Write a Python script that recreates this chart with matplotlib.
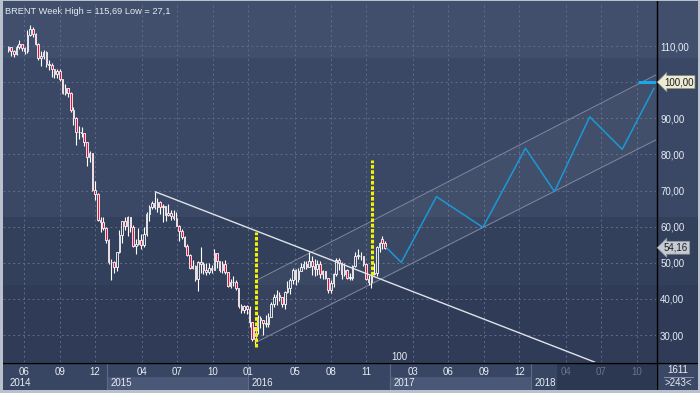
import numpy as np
import pandas as pd
import matplotlib
matplotlib.use('Agg')
import matplotlib.pyplot as plt
import matplotlib.dates as mdates
import matplotlib.transforms as mtransforms
from matplotlib.patches import Rectangle

plt.rcParams['font.family'] = ['Liberation Sans', 'DejaVu Sans']

# weekly candles, BRENT (week starting Monday)
weeks = pd.date_range('2014-04-21', periods=140, freq='7D')
opens = [108.9, 109.6, 108.6, 107.9, 109.8, 110.5, 109.4, 108.6, 113.0, 114.8,
         113.3, 110.6, 106.7, 107.2, 108.4, 105.0, 104.7, 103.5, 102.3, 103.2,
         100.8, 97.1, 98.4, 97.0, 92.3, 90.2, 86.2, 86.1, 85.9, 83.4,
         79.4, 80.4, 70.2, 69.1, 61.9, 61.4, 59.5,
         56.4, 50.1, 50.2, 48.8, 52.9, 57.8, 61.5, 60.2, 62.6, 60.0,
         54.7, 55.3, 56.4, 54.9, 57.9, 63.5, 65.3, 66.5, 65.4, 66.8,
         65.4, 65.6, 63.3, 63.9, 63.0, 62.3, 60.3, 58.7, 57.1, 54.6,
         52.2, 48.6, 49.2, 45.5, 50.1, 49.6, 48.1, 47.5, 48.6, 48.1,
         52.7, 50.5, 48.0, 49.6, 47.4, 43.6, 44.7, 44.6, 43.0, 37.9,
         37.0, 37.9,
         37.3, 33.6, 28.9, 32.2, 34.7, 34.1, 33.4, 33.0, 35.1, 38.7,
         40.4, 41.2, 40.4, 38.7, 41.9, 43.1, 45.1, 48.1, 45.4, 47.8,
         48.7, 49.6, 48.8, 50.5, 49.2, 48.4, 49.7, 46.8, 47.6, 45.7,
         42.5, 44.3, 46.8, 50.9, 49.9, 46.8, 48.0, 45.8, 45.9, 49.2,
         52.0, 51.95, 51.8, 49.7, 45.6, 44.8, 46.9, 47.2, 54.3, 56.6,
         55.4]
highs = [110.0, 109.7, 109.0, 110.3, 111.7, 110.6, 109.6, 114.3, 115.69, 115.2,
         113.5, 110.8, 108.5, 108.8, 108.6, 106.2, 105.2, 103.6, 103.7, 103.5,
         100.9, 99.6, 98.5, 97.2, 93.2, 90.4, 87.8, 87.6, 86.0, 83.5,
         80.9, 80.5, 72.5, 69.4, 62.6, 62.7, 60.0,
         56.5, 51.0, 50.5, 53.0, 59.1, 61.6, 62.6, 63.0, 62.7, 60.5,
         56.5, 59.7, 57.9, 59.8, 64.0, 66.0, 67.1, 69.63, 67.8, 67.0,
         66.2, 65.8, 66.3, 64.6, 64.7, 64.0, 60.5, 59.3, 57.4, 55.3,
         52.4, 50.9, 49.4, 50.4, 54.3, 50.1, 49.8, 49.9, 49.5, 53.7,
         52.8, 50.6, 50.4, 50.9, 47.5, 45.6, 46.4, 45.2, 43.1, 38.6,
         38.3, 38.3,
         38.0, 33.7, 32.3, 35.6, 35.4, 34.2, 35.6, 36.2, 39.1, 41.3,
         42.5, 42.0, 40.5, 42.1, 45.0, 45.8, 48.5, 48.2, 48.6, 49.9,
         50.5, 50.5, 52.9, 51.9, 51.1, 50.8, 50.5, 48.1, 47.8, 45.9,
         45.3, 47.1, 51.3, 51.2, 50.1, 49.9, 48.3, 47.3, 49.4, 52.9,
         53.7, 53.1, 51.9, 49.8, 46.7, 47.0, 49.8, 54.6, 55.8, 57.3,
         55.9]
lows = [108.3, 107.3, 106.9, 107.5, 109.2, 108.6, 107.9, 108.0, 112.8, 112.5,
        110.3, 106.0, 104.5, 106.4, 104.3, 103.4, 101.5, 101.1, 101.2, 100.2,
        96.6, 96.3, 95.8, 91.6, 88.1, 82.6, 84.2, 84.8, 82.2, 76.8,
        77.8, 69.8, 67.5, 61.5, 58.5, 59.0, 55.4,
        49.7, 45.19, 47.3, 47.7, 52.6, 55.5, 59.1, 57.3, 58.6, 54.4,
        52.5, 55.0, 53.8, 54.5, 57.3, 61.6, 64.8, 64.9, 64.1, 63.6,
        61.4, 61.6, 63.0, 61.8, 61.8, 60.1, 55.9, 56.6, 54.4, 51.9,
        48.2, 48.2, 45.0, 42.2, 47.1, 46.8, 46.6, 46.8, 47.1, 48.0,
        48.6, 47.5, 47.1, 47.0, 43.3, 43.0, 43.6, 42.5, 37.5, 36.1,
        36.0, 35.9,
        32.2, 28.4, 27.10, 30.2, 31.9, 30.0, 32.1, 32.3, 35.0, 37.8,
        38.2, 39.5, 37.8, 37.3, 41.6, 41.3, 44.2, 43.8, 44.8, 47.6,
        48.3, 48.2, 48.7, 46.7, 46.4, 46.6, 45.8, 45.4, 45.4, 41.5,
        41.5, 43.3, 46.4, 47.9, 45.5, 46.4, 45.5, 45.1, 45.2, 48.8,
        51.0, 50.7, 49.2, 45.2, 43.9, 43.1, 46.6, 46.3, 52.9, 53.9,
        53.9]
closes = [109.6, 108.6, 107.9, 109.8, 110.5, 109.4, 108.6, 113.0, 114.8, 113.3,
          110.6, 106.7, 107.2, 108.4, 105.0, 104.7, 103.5, 102.3, 103.2, 100.8,
          97.1, 98.4, 97.0, 92.3, 90.2, 86.2, 86.1, 85.9, 83.4, 79.4,
          80.4, 70.2, 69.1, 61.9, 61.4, 59.5, 56.4,
          50.1, 50.2, 48.8, 52.9, 57.8, 61.5, 60.2, 62.6, 60.0, 54.7,
          55.3, 56.4, 54.9, 57.9, 63.5, 65.3, 66.5, 65.4, 66.8, 65.4,
          65.6, 63.3, 63.9, 63.0, 62.3, 60.3, 58.7, 57.1, 54.6, 52.2,
          48.6, 49.2, 45.5, 50.1, 49.6, 48.1, 47.5, 48.6, 48.1, 52.7,
          50.5, 48.0, 49.6, 47.4, 43.6, 44.7, 44.6, 43.0, 37.9, 37.0,
          37.9, 37.3,
          33.6, 28.9, 32.2, 34.7, 34.1, 33.4, 33.0, 35.1, 38.7, 40.4,
          41.2, 40.4, 38.7, 41.9, 43.1, 45.1, 48.1, 45.4, 47.8, 48.7,
          49.6, 48.8, 50.5, 49.2, 48.4, 49.7, 46.8, 47.6, 45.7, 42.5,
          44.3, 46.8, 50.9, 49.9, 46.8, 48.0, 45.8, 45.9, 49.2, 52.0,
          51.95, 51.8, 49.7, 45.6, 44.8, 46.9, 47.2, 54.5, 55.6, 55.4,
          54.16]

# forecast zigzag
zig_dates = ['2016-12-23', '2017-01-30', '2017-05-01', '2017-08-29', '2017-12-17',
             '2018-03-02', '2018-06-01', '2018-08-24', '2018-11-14']
zig_vals = [54.16, 50.1, 68.3, 59.8, 81.7, 69.7, 90.4, 81.4, 98.3]

# drawn objects
trend_dates = ['2015-05-06', '2018-06-14']
trend_vals = [69.63, 22.5]
chan_dates = ['2016-01-23', '2018-11-19']
chan_upper = [45.2, 102.0]
chan_lower = [28.1, 84.0]
vmark_dates = ['2016-01-20', '2016-11-15']
vmark_lo = [26.8, 46.6]
vmark_hi = [58.5, 78.4]
target_dates = ['2018-10-03', '2018-11-19']
target_val = 100.0

tick_dates = ['2014-06-01', '2014-09-01', '2014-12-01', '2015-04-01', '2015-07-01',
              '2015-10-01', '2016-01-01', '2016-05-01', '2016-08-01', '2016-11-01',
              '2017-03-01', '2017-06-01', '2017-09-01', '2017-12-01', '2018-04-01',
              '2018-07-01', '2018-10-01']
tick_labels = ['06', '09', '12', '04', '07', '10', '01', '05', '08', '11',
               '03', '06', '09', '12', '04', '07', '10']
years = ['2015', '2016', '2017', '2018']
future_start = '2018-03-08'
y_ticks = [30, 40, 50, 60, 70, 80, 90, 100, 110]

d0 = mdates.date2num(pd.Timestamp('2014-06-01'))
txt = '#e8ecf3'

fig = plt.figure(figsize=(7, 3.93), dpi=100)
fig.patch.set_facecolor('#34415d')

bg = fig.add_axes([0, 0, 1, 1])
bg.set_xlim(0, 700)
bg.set_ylim(393, 0)
bg.axis('off')
bg.set_zorder(0)

# horizontal shading bands
for y0, y1, col in [(0, 58, '#414f6c'), (58, 217, '#3a4865'), (217, 285, '#33405c'), (285, 362, '#2f3b57')]:
    bg.add_patch(Rectangle((0, y0), 700, y1 - y0, fc=col, ec='none'))

ax = fig.add_axes([3 / 700, 31 / 393, 653 / 700, 360 / 393])
ax.set_facecolor('none')
ax.set_zorder(1)
ax.set_xlim(d0 - 55.0, d0 + 1632.3)
ax.set_ylim(22.53, 122.18)
for s in ax.spines.values():
    s.set_visible(False)

# candles
x = mdates.date2num(weeks)
o = np.array(opens)
h = np.array(highs)
l = np.array(lows)
c = np.array(closes)
top = np.maximum(o, c)
bot = np.minimum(o, c)
ax.vlines(x, top, h, color='white', lw=0.8, zorder=3)
ax.vlines(x, l, bot, color='white', lw=0.8, zorder=3)
fcs = ['#e3103c' if cc < oo else 'none' for oo, cc in zip(o, c)]
ax.bar(x, np.maximum(top - bot, 0.2), bottom=bot, width=4.0, color=fcs,
       edgecolor='white', linewidth=0.6, zorder=3)

# channel
cd = mdates.date2num(pd.to_datetime(chan_dates))
ax.fill_between(cd, chan_lower, chan_upper, color='white', alpha=0.045, lw=0, zorder=1)
ax.plot(cd, chan_upper, color='#7f889c', lw=0.7, zorder=2)
ax.plot(cd, chan_lower, color='#7f889c', lw=0.7, zorder=2)

# trendline
ax.plot(mdates.date2num(pd.to_datetime(trend_dates)), trend_vals, color='#dfe2e8', lw=1.0, zorder=4)

# yellow markers
ax.vlines(mdates.date2num(pd.to_datetime(vmark_dates)), vmark_lo, vmark_hi, color='#f2f200',
          lw=2.2, linestyles=[(0, (1.2, 0.55))], zorder=5)

# forecast
ax.plot(mdates.date2num(pd.to_datetime(zig_dates)), zig_vals, color='#1b98d6', lw=1.1, zorder=4)
ax.plot(mdates.date2num(pd.to_datetime(target_dates)), [target_val, target_val], color='#19a8ea',
        lw=2.2, zorder=4, solid_capstyle='butt')

ax.text(mdates.date2num(pd.Timestamp('2017-01-25')), 23.9, '100', color=txt,
        fontsize=7, ha='center', va='center', zorder=6)

# grid + ticks
tick_x = mdates.date2num(pd.to_datetime(tick_dates))
ax.set_xticks(tick_x)
ax.set_xticklabels(tick_labels)
fut = mdates.date2num(pd.Timestamp(future_start))
for t, lab in zip(tick_x, ax.get_xticklabels()):
    lab.set_color('#69748c' if t > fut else txt)
ax.tick_params(axis='x', length=0, pad=3.5, labelsize=7)
ax.yaxis.tick_right()
ax.set_yticks(y_ticks)
ax.set_yticklabels(['' if v == target_val else f'{v:.2f}'.replace('.', ',') for v in y_ticks])
ax.tick_params(axis='y', length=0, pad=3, labelsize=7, labelcolor=txt)
ax.grid(True, color='#5f6d8b', lw=0.7, linestyle=(0, (2, 3)), zorder=0)
ax.set_axisbelow(True)

# price tags on the scale
tr = mtransforms.blended_transform_factory(ax.transAxes, ax.transData)
ax.text(1 + 8 / 653, target_val, '100,00', transform=tr, fontsize=7, color='#1c1c1c',
        va='center', ha='left', clip_on=False, zorder=7,
        bbox=dict(boxstyle='larrow,pad=0.15', fc='#ecebd3', ec='#8f8f78', lw=0.5))
ax.text(1 + 8 / 653, closes[-1], f'{closes[-1]:.2f}'.replace('.', ','), transform=tr, fontsize=7,
        color='#1c1c1c', va='center', ha='left', clip_on=False, zorder=7,
        bbox=dict(boxstyle='larrow,pad=0.15', fc='#c6cad2', ec='#8a8f99', lw=0.5))

# bottom time scale (x in dates, y in pixels)
bt = mtransforms.blended_transform_factory(ax.transData, bg.transData)
bg.add_patch(Rectangle((0, 362), 700, 29, fc='#394663', ec='none'))
for i, yr in enumerate(years):
    xs = mdates.date2num(pd.Timestamp(f'{yr}-01-01'))
    xe = mdates.date2num(pd.Timestamp(f'{int(yr) + 1}-01-01'))
    if i % 2 == 0:
        bg.add_patch(Rectangle((xs, 377), xe - xs, 13, fc='#4a5776', ec='none', transform=bt))
    bg.plot([xs, xs], [363, 390], color='#5d6a88', lw=0.8, transform=bt)
    bg.text(xs + 9, 383.5, yr, transform=bt, fontsize=7, color=txt, va='center', ha='left')
bg.add_patch(Rectangle((fut, 363), ax.get_xlim()[1] - fut, 27, fc='#2c3751', ec='none', transform=bt))
bg.text(10, 383.5, '2014', fontsize=7, color=txt, va='center', ha='left')

# right bottom box
bg.add_patch(Rectangle((657, 363), 43, 27, fc='#3a4765', ec='none'))
bg.text(678, 370, '1611', fontsize=7, color=txt, ha='center', va='center')
bg.plot([664, 693], [377, 377], color='#8a93a8', lw=0.7)
bg.text(678, 383.5, '>243<', fontsize=7, color=txt, ha='center', va='center')

# separators and frame
bg.plot([0, 700], [362.5, 362.5], color='black', lw=1.0)
bg.plot([656.5, 656.5], [0, 390], color='black', lw=1.0)
for r in [(0, 0, 700, 1), (0, 390, 700, 3), (0, 0, 2.5, 393), (697.5, 0, 2.5, 393)]:
    bg.add_patch(Rectangle(r[:2], r[2], r[3], fc='#b9c1cd', ec='none', zorder=10))

bg.text(5, 12, 'BRENT Week High = 115,69 Low = 27,1', fontsize=6.7, color='#e4e9f1',
        va='center', ha='left')

fig.savefig('out.png', dpi=100, facecolor=fig.get_facecolor())
